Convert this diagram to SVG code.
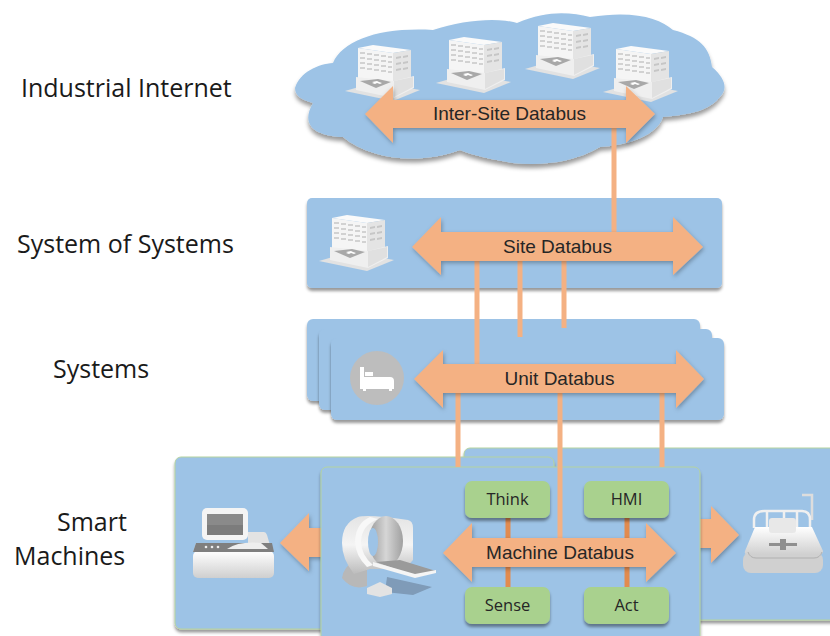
<svg xmlns="http://www.w3.org/2000/svg" xmlns:xlink="http://www.w3.org/1999/xlink" width="830" height="636" viewBox="0 0 830 636">
<style>
.panel{fill:#9DC3E6;filter:url(#sh)}
.smart{fill:#9DC3E6;stroke:#B5D3A0;stroke-width:1;filter:url(#sh)}
.bus{fill:#F4B183;filter:url(#ash)}
.link{stroke:#F4B183;stroke-width:5;fill:none}
.inner{stroke:#E28B4F;stroke-width:5;fill:none}
.fn{fill:#A9D18E;filter:url(#sh)}
.lbl{font-family:"Open Sans","Noto Sans",sans-serif;font-size:25px;fill:#1a1a1a}
.bt{font-family:"Liberation Sans",Arial,sans-serif;font-size:19px;fill:#262626;text-anchor:middle}
.gt{font-family:"Open Sans","Noto Sans",sans-serif;font-size:16.5px;fill:#262626;text-anchor:middle}
.win{fill:#d2d2d2}
</style>
<defs>
<filter id="sh" x="-5%" y="-10%" width="110%" height="125%"><feDropShadow dx="0" dy="3" stdDeviation="1.5" flood-color="#000" flood-opacity=".4"/></filter>
<filter id="cs" x="-5%" y="-10%" width="110%" height="125%"><feDropShadow dx="0" dy="4" stdDeviation="2" flood-color="#000" flood-opacity=".4"/></filter>
<filter id="ash" x="-5%" y="-10%" width="110%" height="125%"><feDropShadow dx="1" dy="2" stdDeviation="2" flood-color="#000" flood-opacity=".3"/></filter>
<filter id="soft"><feGaussianBlur stdDeviation=".45"/></filter>
<linearGradient id="g1" x1="0" y1="0" x2="0" y2="1"><stop offset="0" stop-color="#fff"/><stop offset="1" stop-color="#cfcfcf"/></linearGradient>
<linearGradient id="g2" x1="0" y1="0" x2="1" y2="0"><stop offset="0" stop-color="#9a9a9a"/><stop offset=".5" stop-color="#d6d6d6"/><stop offset="1" stop-color="#a0a0a0"/></linearGradient>
<linearGradient id="g3" x1="0" y1="0" x2="0" y2="1"><stop offset="0" stop-color="#e4e4e4"/><stop offset=".5" stop-color="#f4f4f4"/><stop offset="1" stop-color="#bcbcbc"/></linearGradient>
<g id="bldg" filter="url(#soft)">
<polygon points="-13,43 18,34 62,42 35,53" fill="#e2e2e2"/>
<polygon points="0,0 15,-3 53,2 35,5" fill="#fafafa"/>
<polygon points="0,0 35,5 35,38 0,30" fill="#f5f5f5"/>
<polygon points="35,5 53,2 53,32 35,38" fill="#e4e4e4"/>
<path class="win" d="M2 4h5v2h-5zM9 5h5v2h-5zM16 6h5v2h-5zM23 7h5v2h-5zM30 8h4v2h-4zM2 9h5v2h-5zM9 10h5v2h-5zM16 11h5v2h-5zM23 12h5v2h-5zM30 13h4v2h-4zM2 14h5v2h-5zM9 15h5v2h-5zM16 16h5v2h-5zM23 17h5v2h-5zM30 18h4v2h-4zM2 19h5v2h-5zM9 20h5v2h-5zM16 21h5v2h-5zM23 22h5v2h-5zM30 23h4v2h-4z"/>
<path d="M38 9l5-1v2l-5 1zM45 8l5-1v2l-5 1zM38 15l5-1v2l-5 1zM45 14l5-1v2l-5 1zM38 21l5-1v2l-5 1zM45 20l5-1v2l-5 1z" fill="#c6c6c6"/>
<polygon points="-2,29 36,33 56,28 56,40 36,50 -2,42" fill="#efefef"/>
<polygon points="2,33 20,31 33,34 18,40" fill="#a8a8a8"/>
<path d="M14 34l5-1 2 1 3 1-2 1-3-1-2 1-3-1 2-1z" fill="#fff"/>
<polygon points="36,33 55,29 55,39 36,49" fill="#e0e0e0"/>
</g>
</defs>

<g id="cloud">
<path d="M295 88C300 72 318 64 333 63C343 40 380 27 433 30C463 20 497 17 517 23C547 10 570 12 590 17C633 10 660 18 673 30C700 37 710 48 712 67C727 80 727 90 720 97C710 110 690 115 663 117C657 135 630 145 600 147C573 163 540 166 513 163C495 160 475 156 460 150C420 165 370 160 343 137C315 136 300 125 313 103C302 100 295 96 295 88Z" fill="#9DC3E6" filter="url(#cs)"/>
<use xlink:href="#bldg" href="#bldg" x="358" y="48"/>
<use xlink:href="#bldg" href="#bldg" x="449" y="40"/>
<use xlink:href="#bldg" href="#bldg" x="538" y="26"/>
<use xlink:href="#bldg" href="#bldg" x="616" y="49"/>
</g>
<g id="site-panel">
<rect class="panel" x="307" y="198" width="415" height="90" rx="5"/>
<use xlink:href="#bldg" href="#bldg" x="332" y="218"/>
</g>
<g id="systems-panels">
<rect class="panel" x="307" y="319" width="393" height="82" rx="6"/>
<rect class="panel" x="319" y="329" width="393" height="81" rx="6"/>
<rect class="panel" x="331" y="338" width="393" height="82" rx="6"/>
<circle cx="377" cy="378" r="27" fill="#BDBDBD"/>
<path d="M360 367h4v10h26q4 0 4 4v8h-2v2h-3v-2h-23v2h-3v-2h-3zM365 372h8v4h-8z" fill="#fff"/>
</g>
<g id="smart-back">
<rect class="smart" x="464" y="448" width="380" height="172" rx="6"/>
<rect class="smart" x="175" y="457" width="379" height="172" rx="6"/>
<polygon class="bus" points="280,543 309,513 309,528 330,528 330,557 309,557 309,571"/>
<polygon class="bus" points="739,535 711,506 711,519 690,519 690,548 711,548 711,563"/>
</g>
<g id="monitor" filter="url(#soft)">
<path d="M248 532h16q2 0 3 3l5 17H193l3-9h52z" fill="#e3e3e3"/>
<rect x="193" y="551" width="81" height="27" rx="5" fill="url(#g1)"/>
<polygon points="196,543 272,543 274,552 193,552" fill="#7f7f7f"/>
<path d="M227 549q12-8 34-6l7 6z" fill="#eee"/>
<circle cx="206" cy="547" r="1.300" fill="#eee"/><circle cx="212" cy="547" r="1.300" fill="#eee"/><circle cx="218" cy="547" r="1.300" fill="#eee"/>
<rect x="202" y="508" width="46" height="32" rx="5" fill="#f4f4f4"/>
<rect x="207" y="514" width="36" height="21" fill="#8a8a8a"/>
<rect x="207" y="525" width="36" height="10" fill="#7b7b7b"/>
</g>
<g id="right-bed" filter="url(#soft)">
<path d="M802 495h10v25" stroke="#ddd" stroke-width="2.500" fill="none"/>
<path d="M754 528v-8q0-9 10-9h38q8 0 8 9v8M767 512v16M784 512v16M797 512v16" stroke="#f0f0f0" stroke-width="2.500" fill="none"/>
<rect x="743" y="552" width="80" height="21" rx="8" fill="#d0d0d0"/>
<path d="M755 527h57l11 24q0 4-5 4H749q-5 0-4-4z" fill="url(#g1)"/>
<path d="M748 552q2 6 8 6h58q6 0 8-6" stroke="#b0b0b0" fill="none"/>
<rect x="769" y="518" width="27" height="15" rx="3" fill="#e8e8e8"/>
<rect x="769" y="543" width="28" height="3" fill="#8f8f8f"/><rect x="780" y="539" width="6" height="11" fill="#8f8f8f"/>
</g>
<g id="front-panel">
<rect class="smart" x="321" y="467" width="379" height="200" rx="6"/>
</g>
<g id="connectors">
<path class="link" d="M614 128V232"/>
<path class="link" d="M477 261V364"/>
<path class="link" d="M520 261V337"/>
<path class="link" d="M564 261V328"/>
<path class="link" d="M458 393V467"/>
<path class="link" d="M560 393V538"/>
<path class="link" d="M662 393V467"/>
<path class="inner" d="M508 518V587"/>
<path class="inner" d="M627 518V587"/>
</g>
<g id="ct-scanner" filter="url(#soft)">
<polygon points="387,577 432,587 413,595 385,592" fill="#7f9bb8"/>
<path d="M342 578q2-12 12-16l13 8v16q-15 5-25-8z" fill="#b8b8b8"/>
<path d="M342 543q0-20 16-26 10-3 50 3 5 1 5 8v32l-8 9H370l-16 5q-12-15-12-31z" fill="url(#g3)"/>
<ellipse cx="386" cy="541" rx="17" ry="25" fill="url(#g2)"/>
<path d="M378 519q-16 6-17 22 0 14 12 24l-6 2q-12-12-12-26 1-18 15-24z" fill="#f8f8f8"/>
<ellipse cx="373" cy="542" rx="5" ry="14" fill="#9DC3E6"/>
<polygon points="376,562 400,560 436,571 415,576" fill="#9a9a9a"/>
<polygon points="373,562 415,574 436,570 436,573 415,578 373,566" fill="#f5f5f5"/>
<polygon points="367,588 380,582 392,588 392,594 380,597 367,594" fill="#e3e3e3"/>
</g>
<g id="inter-site-databus">
<polygon class="bus" points="365,114 393,86 393,100 626,100 626,86 655,114 626,143 626,128 393,128 393,143"/>
<text class="bt" x="509.500" y="120">Inter-Site Databus</text>
</g>
<g id="site-databus">
<polygon class="bus" points="412,247 441,217 441,232 673,232 673,217 703,247 673,275 673,261 441,261 441,275"/>
<text class="bt" x="557.500" y="253">Site Databus</text>
</g>
<g id="unit-databus">
<polygon class="bus" points="414,379 443,350 443,364 676,364 676,350 704,379 676,408 676,393 443,393 443,408"/>
<text class="bt" x="559.500" y="385">Unit Databus</text>
</g>
<g id="think"><rect class="fn" x="465" y="481" width="85" height="37" rx="7"/><text class="gt" x="507.500" y="505">Think</text></g>
<g id="hmi"><rect class="fn" x="584" y="481" width="85" height="37" rx="7"/><text class="gt" x="626.500" y="505">HMI</text></g>
<g id="sense"><rect class="fn" x="465" y="587" width="85" height="37" rx="7"/><text class="gt" x="507.500" y="611">Sense</text></g>
<g id="act"><rect class="fn" x="584" y="587" width="85" height="37" rx="7"/><text class="gt" x="626.500" y="611">Act</text></g>
<g id="machine-databus">
<polygon class="bus" points="443,553 472,523 472,538 646,538 646,523 676,553 646,582 646,567 472,567 472,582"/>
<text class="bt" x="560" y="559">Machine Databus</text>
</g>
<g id="labels">
<text class="lbl" x="21" y="97">Industrial Internet</text>
<text class="lbl" x="17" y="253">System of Systems</text>
<text class="lbl" x="53" y="378">Systems</text>
<text class="lbl" x="57" y="531">Smart</text>
<text class="lbl" x="14" y="565">Machines</text>
</g>
</svg>
